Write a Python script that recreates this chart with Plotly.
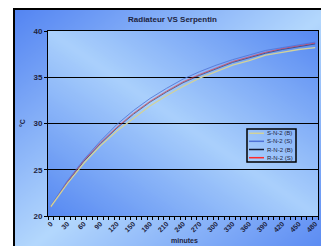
import zlib, struct, base64
import plotly.graph_objects as go

# ---------------- data ----------------
minutes = [0, 30, 60, 90, 120, 150, 180, 210, 240, 270, 300, 330, 360, 390, 420, 450, 480]
tick_labels = [str(m) for m in minutes]
s_n2_b = [21.0, 23.5, 25.7, 27.6, 29.2, 30.6, 31.9, 33.0, 34.0, 34.9, 35.6, 36.3, 36.8, 37.4, 37.7, 38.0, 38.2]
s_n2_s = [21.1, 23.8, 26.1, 28.1, 29.9, 31.4, 32.7, 33.8, 34.8, 35.6, 36.3, 36.9, 37.4, 37.9, 38.2, 38.5, 38.8]
r_n2_b = [21.0, 23.6, 25.9, 27.8, 29.5, 31.0, 32.3, 33.4, 34.4, 35.2, 35.9, 36.6, 37.1, 37.6, 38.0, 38.3, 38.6]
r_n2_s = [21.0, 23.7, 26.0, 27.9, 29.6, 31.1, 32.4, 33.5, 34.5, 35.3, 36.0, 36.7, 37.2, 37.7, 38.1, 38.4, 38.7]
series_names = ["S-N-2 (B)", "S-N-2 (S)", "R-N-2 (B)", "R-N-2 (S)"]
series_colors = ["#d2d29a", "#4f72d6", "#101830", "#ff2a2a"]
y_ticks = [20, 25, 30, 35, 40]

# ---------------- gradient background helper ----------------
def png_uri(w, h, fn):
    raw = bytearray()
    for j in range(h):
        raw.append(0)
        for i in range(w):
            raw += bytes(fn(i / (w - 1), j / (h - 1)))
    def chunk(t, d):
        c = struct.pack(">I", len(d)) + t + d
        return c + struct.pack(">I", zlib.crc32(t + d) & 0xFFFFFFFF)
    png = (b"\x89PNG\r\n\x1a\n"
           + chunk(b"IHDR", struct.pack(">IIBBBBB", w, h, 8, 2, 0, 0, 0))
           + chunk(b"IDAT", zlib.compress(bytes(raw)))
           + chunk(b"IEND", b""))
    return "data:image/png;base64," + base64.b64encode(png).decode()

def mix(light, dark, s):
    s = max(0.0, min(1.0, s))
    return tuple(int(round(l + (d - l) * s)) for l, d in zip(light, dark))

chart_light, chart_dark = (180, 216, 253), (84, 133, 242)
plot_light, plot_dark = (170, 208, 252), (88, 138, 242)
chart_bg = png_uri(64, 64, lambda u, v: mix(chart_light, chart_dark, abs(u + v - 1)))
plot_bg = png_uri(64, 64, lambda u, v: mix(plot_light, plot_dark, abs(u - v)))

W, H = 321, 246
# plot area in window pixels: x 48..318, y 31..216
L, R, T, B = 48, 3, 31, 30
pw, ph = 318 - 48, 216 - 31
px = lambda x: (x - 48) / pw      # window pixel -> paper
py = lambda y: (216 - y) / ph

fig = go.Figure()
order = [2, 3, 1, 0]
widths = [1.3, 1.0, 1.0, 1.0]
opac = [1.0, 0.8, 0.5, 0.6]
data = [s_n2_b, s_n2_s, r_n2_b, r_n2_s]
for k in order:
    fig.add_trace(go.Scatter(
        x=minutes, y=data[k], mode="lines", name=series_names[k],
        line=dict(color=series_colors[k], width=widths[k]), opacity=opac[k],
        showlegend=False, hoverinfo="skip"))

font_fam = "Liberation Sans, Arial, sans-serif"
txt = "#1e2440"

fig.update_layout(
    width=W, height=H,
    margin=dict(l=L, r=R, t=T, b=B, pad=0),
    paper_bgcolor="white",
    plot_bgcolor="rgba(0,0,0,0)",
    font=dict(family=font_fam, color=txt),
    title=dict(text="<b>Radiateur VS Serpentin</b>", font=dict(size=8, color=txt),
               x=px(172.5), xref="paper", xanchor="center",
               y=1 - 19 / H, yref="container", yanchor="middle"),
    xaxis=dict(range=[-5, 485], tickmode="array", tickvals=minutes, ticktext=tick_labels,
               tickangle=-45, ticks="", tickfont=dict(size=7, color=txt, weight="bold"),
               showgrid=False, zeroline=False, showline=True, linecolor="black",
               linewidth=1, mirror=True,
               minor=dict(ticks="outside", tick0=-5, dtick=10, ticklen=3,
                          tickcolor="black", tickwidth=1, showgrid=False)),
    yaxis=dict(range=[20, 40], tickmode="array", tickvals=y_ticks,
               ticks="outside", ticklen=3, tickcolor="black",
               tickfont=dict(size=8, color=txt, weight="bold"),
               showgrid=True, gridcolor="black", gridwidth=1, zeroline=False,
               showline=True, linecolor="black", linewidth=1, mirror=True),
    images=[
        dict(source=chart_bg, xref="paper", yref="paper", x=px(13), y=py(8),
             sizex=px(333) - px(13), sizey=py(8) - py(262), sizing="stretch",
             xanchor="left", yanchor="top", layer="below"),
        dict(source=plot_bg, xref="paper", yref="paper", x=0, y=1, sizex=1, sizey=1,
             sizing="stretch", xanchor="left", yanchor="top", layer="below"),
    ],
)

shapes = [dict(type="rect", xref="paper", yref="paper", x0=px(14), x1=px(335),
               y0=py(262), y1=py(9), line=dict(color="black", width=2), layer="above")]
# legend box
shapes.append(dict(type="rect", xref="paper", yref="paper", x0=px(247), x1=px(296),
                   y0=py(162), y1=py(129), line=dict(color="black", width=1.5), layer="above"))
annotations = []
item_y = [133.3, 141.3, 149.5, 157.7]
for k in range(4):
    shapes.append(dict(type="line", xref="paper", yref="paper", x0=px(249), x1=px(264),
                       y0=py(item_y[k]), y1=py(item_y[k]),
                       line=dict(color=series_colors[k], width=1.5), layer="above"))
    annotations.append(dict(text=series_names[k], xref="paper", yref="paper",
                            x=px(265), y=py(item_y[k]), xanchor="left", yanchor="middle",
                            showarrow=False, font=dict(size=6, color=txt)))
annotations.append(dict(text="<b>minutes</b>", xref="paper", yref="paper", x=px(184),
                        y=py(240), xanchor="center", yanchor="middle", showarrow=False,
                        font=dict(size=7, color=txt)))
annotations.append(dict(text="<b>°C</b>", xref="paper", yref="paper", x=px(22),
                        y=py(123), xanchor="center", yanchor="middle", showarrow=False,
                        textangle=-90, font=dict(size=7, color=txt)))
fig.update_layout(shapes=shapes, annotations=annotations)

fig.write_html("out.html",
               config={"displayModeBar": False},
               post_script="document.body.style.margin='0';"
                           "document.body.style.overflow='hidden';"
                           "document.documentElement.style.overflow='hidden';")
